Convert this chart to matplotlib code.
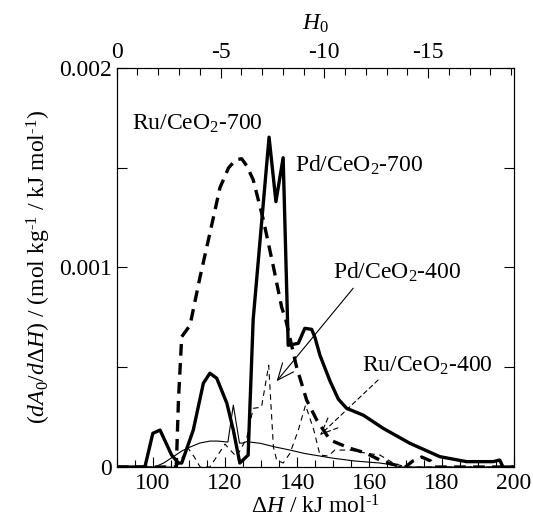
import matplotlib
matplotlib.use("Agg")
import matplotlib.pyplot as plt
from matplotlib.ticker import FixedLocator, MultipleLocator

plt.rcParams["font.family"] = ["Liberation Serif", "DejaVu Serif"]
plt.rcParams["mathtext.fontset"] = "custom"
plt.rcParams["mathtext.rm"] = "Liberation Serif"
plt.rcParams["mathtext.it"] = "Liberation Serif:italic"
plt.rcParams["mathtext.bf"] = "Liberation Serif:bold"
plt.rcParams["font.size"] = 17

# dH in kJ/mol, values in 1e-3 mol kg-1 / kJ mol-1
pd700_x = [90, 97.8, 100.0, 102.0, 105.2, 107.1, 108.0, 111.2, 114.0, 115.8,
           117.7, 120.5, 122.3, 124.1, 126.4, 127.8, 132.2, 134.1, 136.1, 137.5,
           140.3, 142.1, 144.0, 144.9, 146.3, 149.1, 151.4, 153.7, 158.3, 163.8,
           171.2, 179.5, 186.9, 194.3, 196.1, 197.0, 200]
pd700_y = [0, 0, 0.169, 0.185, 0.06, 0.02, 0.02, 0.185, 0.42, 0.47,
           0.445, 0.32, 0.185, 0.02, 0.06, 0.74, 1.653, 1.33, 1.55, 0.61,
           0.62, 0.695, 0.69, 0.65, 0.56, 0.43, 0.34, 0.294, 0.26, 0.194,
           0.119, 0.052, 0.027, 0.027, 0.035, 0.0, 0.0]

ru700_x = [90, 106.5, 107.1, 108.0, 110.3, 113.1, 115.8, 118.6, 121.0, 123.0,
           124.6, 126.0, 127.8, 130.6, 133.4, 135.7, 136.8, 139.8, 142.6, 145.4,
           149.1, 154.6, 159.0, 162.9, 166.0, 168.4, 170.0, 172.0, 174.5, 177.0,
           178.0, 200]
ru700_y = [0, 0, 0.336, 0.653, 0.71, 0.954, 1.171, 1.40, 1.50, 1.54,
           1.545, 1.51, 1.44, 1.24, 1.004, 0.80, 0.74, 0.503, 0.336, 0.236,
           0.135, 0.094, 0.07, 0.035, 0.015, 0.005, 0, 0.03, 0.05, 0.03,
           0, 0]

pd400_x = [90, 100.5, 103.0, 105.7, 108.0, 110.3, 113.0, 115.8, 118.0, 120.8,
           122.3, 124.0, 124.8, 126.0, 129.7, 134.0, 138.0, 142.0, 146.3, 150.0,
           156.0, 162.9, 166.6, 169.0, 200]
pd400_y = [0, 0, 0.02, 0.052, 0.08, 0.10, 0.12, 0.13, 0.13, 0.125,
           0.31, 0.12, 0.12, 0.127, 0.119, 0.10, 0.085, 0.068, 0.055, 0.044,
           0.03, 0.02, 0.01, 0, 0]

ru400_x = [90, 106.6, 108.2, 109.8, 111.5, 113.1, 115.8, 118.0, 120.0, 121.7,
           123.2, 126.0, 127.8, 130.1, 132.1, 133.4, 134.3, 136.1, 138.0, 140.3,
           142.3, 144.6, 146.3, 148.6, 150.4, 154.6, 159.2, 162.9, 166.6, 170.0,
           200]
ru400_y = [0, 0, 0.05, 0.094, 0.05, 0, 0, 0.06, 0.115, 0.08,
           0.052, 0.144, 0.294, 0.30, 0.51, 0.10, 0.035, 0.02, 0.069, 0.185,
           0.31, 0.185, 0.06, 0.055, 0.085, 0.085, 0.069, 0.06, 0.02, 0,
           0]

scale = 1e-3
hy = "\u2010"  # real hyphen for the superscripts

fig = plt.figure(figsize=(5.33, 5.21), dpi=100)
ax = fig.add_axes([0.219, 0.1036, 0.745, 0.766])

ax.plot(pd400_x, [v * scale for v in pd400_y], "-", color="black", lw=0.8)
ax.plot(ru400_x, [v * scale for v in ru400_y], "--", color="black", lw=0.8,
        dashes=(5, 4))
ax.plot(ru700_x, [v * scale for v in ru700_y], "--", color="black", lw=2.4,
        dashes=(3.5, 2.2))
ax.plot(pd700_x, [v * scale for v in pd700_y], "-", color="black", lw=2.4)

ax.set_xlim(90, 200)
ax.set_ylim(0, 0.002)
ax.xaxis.set_major_locator(MultipleLocator(20))
ax.xaxis.set_minor_locator(MultipleLocator(5))
ax.yaxis.set_major_locator(FixedLocator([0, 0.001, 0.002]))
ax.yaxis.set_minor_locator(FixedLocator([0.0005, 0.0015]))
ax.set_yticklabels(["0", "0.001", "0.002"])
ax.tick_params(which="both", direction="in", right=True, width=0.8)
ax.tick_params(which="major", length=7)
ax.tick_params(which="minor", length=5)
ax.tick_params(axis="y", which="minor", length=7)
ax.tick_params(axis="x", pad=4)

ax.set_xlabel(r"$\Delta H$ / kJ mol$^{\rm " + hy + "1}$", labelpad=1)
ax.set_ylabel(r"($dA_{\rm 0}$/$d\Delta H$) / (mol kg$^{\rm " + hy
              + r"1}$ / kJ mol$^{\rm " + hy + "1}$)", labelpad=4)

top = ax.twiny()
top.set_xlim(0, -19.13)
top.xaxis.set_major_locator(FixedLocator([0, -5, -10, -15]))
top.xaxis.set_minor_locator(MultipleLocator(1))
top.set_xticklabels(["0", "-5", "-10", "-15"])
top.tick_params(which="both", direction="in", width=0.8)
top.tick_params(which="major", length=7)
top.tick_params(which="minor", length=5)
top.set_xlabel(r"$H_{\rm 0}$", labelpad=9)

ax.text(94.2, 0.00172, r"Ru/CeO$_{\rm 2}$-700", ha="left", va="center")
ax.text(139.4, 0.001514, r"Pd/CeO$_{\rm 2}$-700", ha="left", va="center")
ax.text(149.9, 0.000977, r"Pd/CeO$_{\rm 2}$-400", ha="left", va="center")
ax.text(157.9, 0.000506, r"Ru/CeO$_{\rm 2}$-400", ha="left", va="center")

ax.annotate("", xy=(134.3, 0.00043), xytext=(155.5, 0.000896),
            arrowprops=dict(arrowstyle="->,head_length=0.7,head_width=0.3",
                            color="black", lw=0.8, shrinkA=0, shrinkB=0))
ax.annotate("", xy=(146.3, 0.00016), xytext=(162.4, 0.000436),
            arrowprops=dict(arrowstyle="->,head_length=0.7,head_width=0.3",
                            color="black", lw=0.8, ls=(0, (4, 3)),
                            shrinkA=0, shrinkB=0))

fig.savefig("out.png", dpi=100)
